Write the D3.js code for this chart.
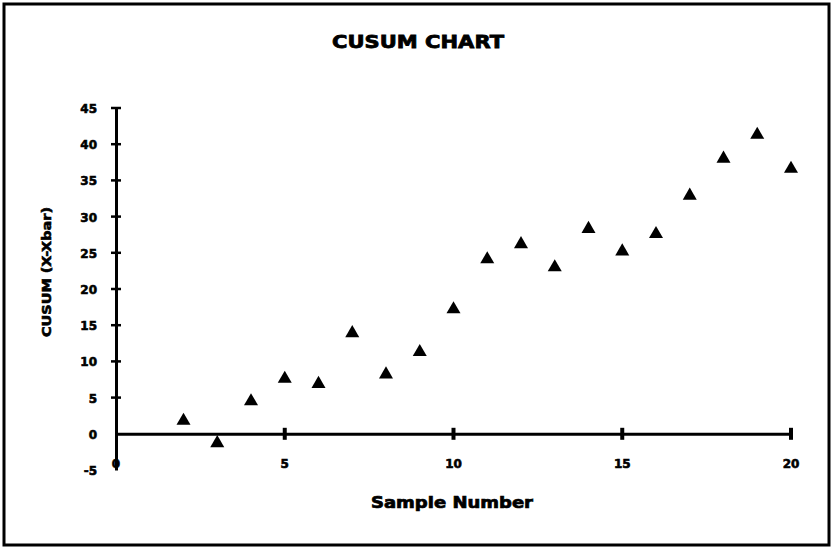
<!DOCTYPE html>
<html>
<head>
<meta charset="utf-8">
<script src="https://cdn.jsdelivr.net/npm/d3@7"></script>
<style>
  html, body { margin: 0; padding: 0; background: #fff; }
  svg { display: block; }
  text { font-family: "DejaVu Sans", "Liberation Sans", sans-serif; font-weight: bold; fill: #000; }
</style>
</head>
<body>
<svg id="chart" width="833" height="548"></svg>
<script>
// ---- data ----
const sampleNumbers = [2, 3, 4, 5, 6, 7, 8, 9, 10, 11, 12, 13, 14, 15, 16, 17, 18, 19, 20];
const cusumValues   = [1.8, -1.3, 4.5, 7.6, 6.9, 13.9, 8.2, 11.3, 17.2, 24.1, 26.2, 23.0, 28.3, 25.2, 27.6, 32.9, 38.0, 41.3, 36.6];
const xTicks = [0, 5, 10, 15, 20];
const yTicks = [-5, 0, 5, 10, 15, 20, 25, 30, 35, 40, 45];
const titleText = "CUSUM CHART";
const xLabel = "Sample Number";
const yLabel = "CUSUM (X-Xbar)";

// ---- layout ----
const svg = d3.select("#chart");
const x = d3.scaleLinear().domain([0, 20]).range([116, 791]);
const y = d3.scaleLinear().domain([-5, 45]).range([470, 108]);

// outer border
svg.append("rect")
  .attr("x", 4).attr("y", 4).attr("width", 825).attr("height", 541)
  .attr("fill", "none").attr("stroke", "#000").attr("stroke-width", 3);

// title
svg.append("text")
  .attr("x", 418).attr("y", 48)
  .attr("text-anchor", "middle")
  .attr("font-size", 18)
  .attr("textLength", 172).attr("lengthAdjust", "spacingAndGlyphs")
  .attr("stroke", "#000").attr("stroke-width", 0.8)
  .text(titleText);

// y axis
const yAxisG = svg.append("g").attr("transform", `translate(${x(0)},0)`);
yAxisG.call(d3.axisLeft(y).tickValues(yTicks).tickSize(0).tickPadding(0).tickFormat(() => ""));
yAxisG.select(".domain").attr("stroke", "#000").attr("stroke-width", 3);

// y tick marks (crossing)
svg.append("g").selectAll("line").data(yTicks.filter(d => d !== 0 && d !== -5)).join("line")
  .attr("x1", x(0) - 5).attr("x2", x(0) + 5)
  .attr("y1", d => y(d)).attr("y2", d => y(d))
  .attr("stroke", "#000").attr("stroke-width", 2.5);

// y tick labels
svg.append("g").selectAll("text").data(yTicks).join("text")
  .attr("x", 97).attr("y", d => y(d) + 5)
  .attr("text-anchor", "end")
  .attr("font-size", 12)
  .attr("stroke", "#000").attr("stroke-width", 0.6)
  .text(d => d);

// x axis at y=0
const xAxisG = svg.append("g").attr("transform", `translate(0,${y(0)})`);
xAxisG.call(d3.axisBottom(x).tickValues(xTicks).tickSize(0).tickFormat(() => ""));
xAxisG.select(".domain").attr("stroke", "#000").attr("stroke-width", 3);

// x tick marks (crossing)
svg.append("g").selectAll("line").data(xTicks.filter(d => d !== 0)).join("line")
  .attr("x1", d => x(d)).attr("x2", d => x(d))
  .attr("y1", y(0) - 6).attr("y2", y(0) + 6)
  .attr("stroke", "#000").attr("stroke-width", 4);

// x tick labels
svg.append("g").selectAll("text").data(xTicks).join("text")
  .attr("x", d => x(d)).attr("y", 468)
  .attr("text-anchor", "middle")
  .attr("font-size", 12)
  .attr("stroke", "#000").attr("stroke-width", 0.6)
  .text(d => d);

// x axis title
svg.append("text")
  .attr("x", 452).attr("y", 508)
  .attr("text-anchor", "middle")
  .attr("font-size", 15)
  .attr("textLength", 162).attr("lengthAdjust", "spacingAndGlyphs")
  .attr("stroke", "#000").attr("stroke-width", 0.7)
  .text(xLabel);

// y axis title
svg.append("text")
  .attr("transform", "translate(51,272) rotate(-90)")
  .attr("text-anchor", "middle")
  .attr("font-size", 12)
  .attr("textLength", 130).attr("lengthAdjust", "spacingAndGlyphs")
  .attr("stroke", "#000").attr("stroke-width", 0.6)
  .text(yLabel);

// points (triangles)
const tri = d3.symbol().type(d3.symbolTriangle).size(85);
svg.append("g").selectAll("path").data(sampleNumbers.map((s, i) => [s, cusumValues[i]])).join("path")
  .attr("d", tri)
  .attr("transform", d => `translate(${x(d[0])},${y(d[1])})`)
  .attr("fill", "#000");
</script>
</body>
</html>
